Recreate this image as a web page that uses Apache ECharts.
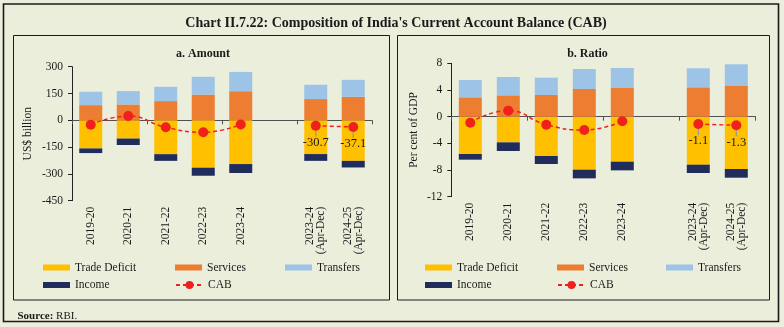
<!DOCTYPE html>
<html><head><meta charset="utf-8">
<script src="https://cdn.jsdelivr.net/npm/echarts@6/dist/echarts.min.js"></script>
<style>html,body{margin:0;padding:0;background:#ECEEDC;}#c{width:784px;height:327px;}</style>
</head><body><div id="c"></div>
<script>
// ---- Data ----
const categories = ['2019-20','2020-21','2021-22','2022-23','2023-24','','2023-24\n(Apr-Dec)','2024-25\n(Apr-Dec)'];
const seriesNames = ['Trade Deficit','Services','Transfers','Income','CAB'];
// a. Amount (US$ billion)
const amtTrade     = [-157.5, -102.2, -189.5, -265.3, -244.9, null, -189, -227];
const amtServices  = [84.9, 88.6, 107.5, 143.3, 162.8, null, 119, 131.5];
const amtTransfers = [75, 75, 80, 100, 108, null, 80, 95];
const amtIncome    = [-26, -36, -37.5, -45, -50, null, -38, -37];
const amtCAB       = [-24.7, 23.9, -38.7, -67.1, -23.2, null, -30.7, -37.1];
// b. Ratio (per cent of GDP)
const ratTrade     = [-5.6, -3.85, -5.9, -7.95, -6.75, null, -7.2, -7.85];
const ratServices  = [2.9, 3.2, 3.25, 4.15, 4.3, null, 4.4, 4.6];
const ratTransfers = [2.6, 2.75, 2.6, 3.0, 3.0, null, 2.85, 3.25];
const ratIncome    = [-0.85, -1.3, -1.2, -1.3, -1.3, null, -1.25, -1.3];
const ratCAB       = [-0.9, 0.9, -1.2, -2.0, -0.7, null, -1.1, -1.3];
const labelledCAB  = [6, 7];
const amtTicks = {min: -450, max: 300, interval: 150};
const ratTicks = {min: -12, max: 8, interval: 4};

// ---- Style ----
const SERIF = '"Liberation Serif","DejaVu Serif",serif';
const colors = {'Trade Deficit':'#FFC000','Services':'#ED7D31','Transfers':'#9DC3E6','Income':'#1F2C5C','CAB':'#F0201C'};
const TXT = '#1a1a1a';

const chart = echarts.init(document.getElementById('c'), null, {renderer:'canvas'});

const grids = [
  {left: 72, top: 66.7, width: 300, height: 134},
  {left: 451.3, top: 63.3, width: 304, height: 133.4}
];

function xAxesFor(gi){
  return [
    {type:'category', gridIndex: gi, data: categories, boundaryGap: true,
     axisLine:{onZero:true, lineStyle:{color:'#505050', width:1}},
     axisTick:{show:true, inside:false, length:4, lineStyle:{color:'#505050'}},
     axisLabel:{show:false}},
    {type:'category', gridIndex: gi, data: categories, position:'bottom', boundaryGap: true,
     axisLine:{show:false, onZero:false}, axisTick:{show:false},
     axisLabel:{show:true, rotate:90, margin:6, fontFamily:SERIF, fontSize:11.5, color:TXT, lineHeight:11}}
  ];
}
function yAxisFor(gi, ticks, name, gap){
  return {type:'value', gridIndex: gi, min: ticks.min, max: ticks.max, interval: ticks.interval,
    name: name, nameLocation:'middle', nameGap: gap, nameRotate: 90,
    nameTextStyle:{fontFamily:SERIF, fontSize:11.5, color:TXT},
    axisLine:{show:true, lineStyle:{color:'#222', width:1}},
    axisTick:{show:true, length:4, lineStyle:{color:'#222'}},
    splitLine:{show:false},
    axisLabel:{fontFamily:SERIF, fontSize:11.5, color:TXT, margin:9}};
}

function panelSeries(xi, yi, vals){
  const [trade, services, transfers, income, cab] = vals;
  const stack = 'st' + xi;
  const bar = (name, data) => ({name, type:'bar', xAxisIndex: xi, yAxisIndex: yi, stack, barWidth: 23,
    data, itemStyle:{color: colors[name]}, emphasis:{disabled:true}});
  const labelData = labelledCAB.filter(i => cab[i] !== null).map(i => [i, cab[i]]);
  return [
    bar('Trade Deficit', trade),
    bar('Services', services),
    bar('Transfers', transfers),
    bar('Income', income),
    {type:'custom', xAxisIndex: xi, yAxisIndex: yi, data: labelData, z: 4, silent: true,
     renderItem: (params, api) => {
       const p = api.coord([api.value(0), api.value(1)]);
       return {type:'group', children:[
         {type:'line', shape:{x1:p[0], y1:p[1], x2:p[0], y2:p[1] + 11},
          style:{stroke:'#9a9a9a', lineWidth:1.3}},
         {type:'text', x:p[0], y:p[1] + 17,
          style:{text: api.value(1).toFixed(1), fill:TXT, font:'12.5px ' + SERIF,
                 align:'center', verticalAlign:'middle'}}
       ]};
     }},
    {name:'CAB', type:'line', xAxisIndex: xi, yAxisIndex: yi, data: cab, smooth: true,
     symbol:'circle', symbolSize: 10, connectNulls: false, z: 5,
     itemStyle:{color: colors['CAB']},
     lineStyle:{color: colors['CAB'], type:[4,3], width:1.5},
     emphasis:{disabled:true}}
  ];
}

function legendsFor(xs, rows){
  const items = [
    ['Trade Deficit', xs[0], rows[0]], ['Services', xs[1], rows[0]], ['Transfers', xs[2], rows[0]],
    ['Income', xs[0], rows[1]], ['CAB', xs[1], rows[1]]
  ];
  return items.map(([n, x, y]) => {
    const isLine = n === 'CAB';
    return {
      data:[isLine ? {name:n} : {name:n, icon:'rect'}],
      left: x, top: y, orient:'horizontal', padding:0, itemGap: 0,
      itemWidth: 27, itemHeight: isLine ? 10 : 6,
      textStyle:{fontFamily:SERIF, fontSize:11.5, color:TXT},
      selectedMode:false
    };
  });
}

const option = {
  backgroundColor:'#ECEEDC',
  animation:false,
  grid: grids,
  xAxis: [...xAxesFor(0), ...xAxesFor(1)],
  yAxis: [yAxisFor(0, amtTicks, 'US$ billion', 38), yAxisFor(1, ratTicks, 'Per cent of GDP', 31)],
  legend: [...legendsFor([43, 175, 285], [261.5, 279]), ...legendsFor([425, 557, 666], [261.5, 279])],
  title: [
    {text:"Chart II.7.22: Composition of India's Current Account Balance (CAB)", left: 391, top: 11, textAlign:'center',
     textStyle:{fontFamily:SERIF, fontSize:14, fontWeight:'bold', color:TXT}},
    {text:'a. Amount', left: 198, top: 43, textAlign:'center',
     textStyle:{fontFamily:SERIF, fontSize:12, fontWeight:'bold', color:TXT}},
    {text:'b. Ratio', left: 582.5, top: 43, textAlign:'center',
     textStyle:{fontFamily:SERIF, fontSize:12, fontWeight:'bold', color:TXT}},
    {text:'{b|Source:} {n|RBI.}', left: 12.5, top: 306,
     textStyle:{fontFamily:SERIF, fontSize:11, fontWeight:'normal', color:TXT,
       rich:{b:{fontFamily:SERIF, fontSize:11, fontWeight:'bold', color:TXT},
             n:{fontFamily:SERIF, fontSize:11, fontWeight:'normal', color:TXT}}}}
  ],
  graphic: [
    {type:'rect', shape:{x:3.5, y:4, width:775, height:317.5}, style:{fill:null, stroke:'#1a1a1a', lineWidth:1.6}, silent:true},
    {type:'rect', shape:{x:13.5, y:35.5, width:376, height:264.5}, style:{fill:null, stroke:'#1a1a1a', lineWidth:1}, silent:true},
    {type:'rect', shape:{x:397.5, y:35.5, width:372, height:264.5}, style:{fill:null, stroke:'#1a1a1a', lineWidth:1}, silent:true}
  ],
  series: [
    ...panelSeries(0, 0, [amtTrade, amtServices, amtTransfers, amtIncome, amtCAB]),
    ...panelSeries(2, 1, [ratTrade, ratServices, ratTransfers, ratIncome, ratCAB])
  ]
};
chart.setOption(option);
</script></body></html>
